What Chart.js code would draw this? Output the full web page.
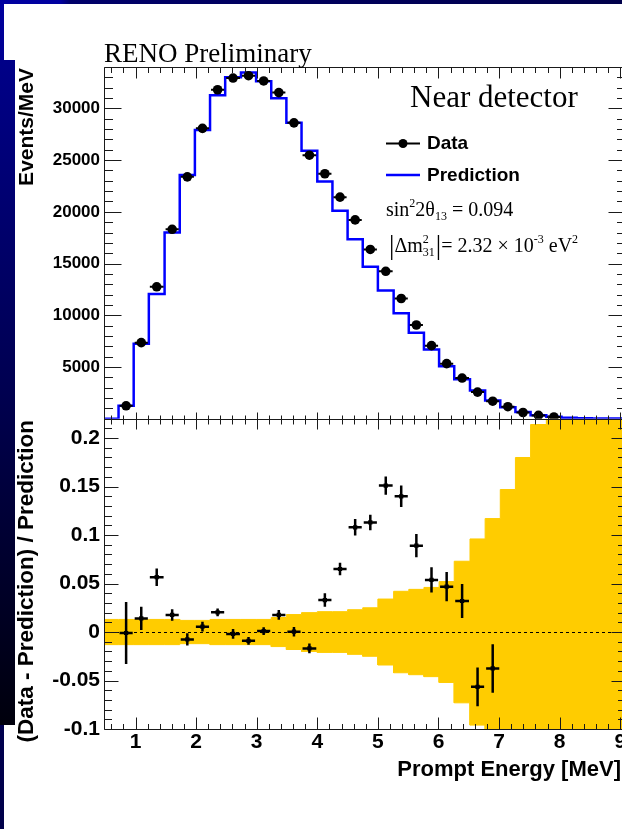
<!DOCTYPE html>
<html>
<head>
<meta charset="utf-8">
<title>RENO near detector prompt spectrum</title>
<script src="https://cdn.jsdelivr.net/npm/chart.js@4.4.0/dist/chart.umd.min.js"></script>
<style>
  html, body { margin: 0; padding: 0; background: #fff; overflow: hidden; }
  body { width: 622px; height: 829px; position: relative; }
  #frameTop { position: absolute; left: 0; top: 0; width: 622px; height: 4px; background: linear-gradient(to right, #0000a0 0, #0000a0 60px, #00006a 70px, #00004a); z-index: 2; }
  #frameLeft { position: absolute; left: 0; top: 0; width: 4px; height: 829px; background: linear-gradient(to bottom, #0000a0, #000060 30%, #00004a); z-index: 2; }
  #frameSide { position: absolute; left: 0; top: 60px; width: 15px; height: 665px; background: linear-gradient(to bottom, #000088, #000050 50%, #00000c); z-index: 2; }
  canvas { position: absolute; left: 0; top: 0; }
</style>
</head>
<body>
<div id="frameTop"></div>
<div id="frameLeft"></div>
<div id="frameSide"></div>
<canvas id="spectrum" width="640" height="829"></canvas>
<canvas id="ratio" width="640" height="829"></canvas>
<script>
// energy binning (MeV)
const binEdges = [0.72, 0.97, 1.22, 1.48, 1.73, 1.98, 2.23, 2.48, 2.74, 2.99, 3.24, 3.49, 3.74, 4.00,
  4.25, 4.50, 4.75, 5.00, 5.26, 5.51, 5.76, 6.01, 6.26, 6.52, 6.77, 7.02, 7.27, 7.52, 7.78, 8.03,
  8.28, 8.53, 8.78, 9.04, 9.29];

// events / MeV
const prediction = [1250, 7250, 12060, 17990, 23570, 27920, 31270, 33010, 33460, 32620, 30980, 28620,
  25915, 22920, 20110, 17350, 14700, 12400, 10190, 8320, 6700, 5080, 3810, 2720, 1760, 1100, 640,
  330, 180, 90, 50, 30, 20, 10];
const dataEvents = [1250, 7350, 12750, 18310, 23380, 28070, 31800, 32930, 33160, 32650, 31525, 28600,
  25475, 23680, 21420, 19220, 16360, 14250, 11620, 9060, 7060, 5320, 3930, 2570, 1690, 1160, 600,
  320, 170];

// (data - prediction) / prediction
const ratio = [-0.001, 0.014, 0.0565, 0.0176, -0.0076, 0.0055, 0.0203, -0.002, -0.009, 0.001, 0.0176,
  0.0003, -0.0169, 0.033, 0.065, 0.108, 0.113, 0.151, 0.140, 0.089, 0.0537, 0.0468, 0.032, -0.0565, -0.0375];
const ratioErr = [0.032, 0.012, 0.009, 0.006, 0.0064, 0.005, 0.004, 0.005, 0.004, 0.004, 0.005, 0.005,
  0.005, 0.007, 0.0065, 0.0085, 0.008, 0.0095, 0.011, 0.012, 0.013, 0.015, 0.0175, 0.020, 0.025];

// systematic uncertainty band (half width)
const bandHalfWidth = [0.013, 0.013, 0.013, 0.013, 0.012, 0.012, 0.013, 0.013, 0.013, 0.013, 0.015,
  0.018, 0.020, 0.021, 0.021, 0.023, 0.025, 0.034, 0.042, 0.044, 0.046, 0.052, 0.073, 0.096, 0.117,
  0.147, 0.180, 0.214, 0.3, 0.3, 0.3, 0.3, 0.3, 0.3];

const energyTicks = [1, 2, 3, 4, 5, 6, 7, 8, 9];
const spectrumTicks = [5000, 10000, 15000, 20000, 25000, 30000];
const ratioTicks = [-0.1, -0.05, 0, 0.05, 0.1, 0.15, 0.2];

const xMin = 0.48, xMax = 9.07;
const sans = 'Liberation Sans';
const serif = 'Liberation Serif';
const gold = '#ffcc00';

Chart.defaults.font.family = sans;
Chart.defaults.color = '#000';

const centers = dataEvents.map((_, i) => (binEdges[i] + binEdges[i + 1]) / 2);

// step outline of the prediction histogram
const predSteps = [{ x: xMin, y: 0 }, { x: binEdges[0], y: 0 }];
prediction.forEach((v, i) => {
  predSteps.push({ x: binEdges[i], y: v }, { x: binEdges[i + 1], y: v });
});

const bandUpper = [{ x: xMin, y: bandHalfWidth[0] }];
const bandLower = [{ x: xMin, y: -bandHalfWidth[0] }];
bandHalfWidth.forEach((h, i) => {
  bandUpper.push({ x: binEdges[i], y: h }, { x: binEdges[i + 1], y: h });
  bandLower.push({ x: binEdges[i], y: -h }, { x: binEdges[i + 1], y: -h });
});

function line(ctx, x1, y1, x2, y2) {
  ctx.moveTo(x1, y1);
  ctx.lineTo(x2, y2);
}

// ROOT-like frame with inward ticks on all four sides
const rootFrame = {
  id: 'rootFrame',
  afterDraw(chart, args, o) {
    const { ctx, chartArea: a, scales } = chart;
    const xs = scales.x, ys = scales.y;
    const L = Math.round(a.left) + 0.5, R = Math.round(a.right) + 0.5;
    const T = Math.round(a.top) + 0.5, B = Math.round(a.bottom) + 0.5;
    ctx.save();
    ctx.strokeStyle = '#1a1a1a';
    ctx.lineWidth = 1;
    ctx.beginPath();
    ctx.rect(L, T, R - L, B - T);
    for (let k = Math.ceil(xs.min * 5); k <= Math.floor(xs.max * 5); k++) {
      const px = Math.round(xs.getPixelForValue(k / 5)) + 0.5;
      const major = k % 5 === 0;
      line(ctx, px, B, px, B - (major ? o.xBotMajor : o.xBotMinor));
      line(ctx, px, T, px, T + (major ? o.xTopMajor : o.xTopMinor));
    }
    for (let k = Math.ceil(ys.min / o.yStep - 1e-6); k <= Math.floor(ys.max / o.yStep + 1e-6); k++) {
      const py = Math.round(ys.getPixelForValue(k * o.yStep)) + 0.5;
      const len = k % 5 === 0 ? o.yMajor : o.yMinor;
      line(ctx, L, py, L + len, py);
      line(ctx, R, py, R - len, py);
    }
    ctx.stroke();
    ctx.restore();
    if (o.extra) o.extra(chart);
  }
};

function drawRuns(ctx, x, base, parts) {
  parts.forEach(p => {
    ctx.font = `${p.size}px ${serif}`;
    if (p.stack) {
      const w1 = ctx.measureText(p.stack[0]).width;
      const w2 = ctx.measureText(p.stack[1]).width;
      ctx.fillText(p.stack[0], x, base - 9);
      ctx.fillText(p.stack[1], x, base + 4);
      x += Math.max(w1, w2) + 1;
    } else {
      ctx.fillText(p.text, x, base + (p.dy || 0));
      x += ctx.measureText(p.text).width;
    }
  });
}

function drawSpectrumText(chart) {
  const ctx = chart.ctx;
  ctx.save();
  ctx.fillStyle = '#000';
  ctx.textBaseline = 'alphabetic';
  ctx.font = `27px ${serif}`;
  ctx.fillText('RENO Preliminary', 104, 62);
  ctx.font = `31px ${serif}`;
  ctx.fillText('Near detector', 410, 107);

  // legend
  ctx.strokeStyle = '#000';
  ctx.lineWidth = 2;
  ctx.beginPath();
  line(ctx, 386, 143.5, 420, 143.5);
  ctx.stroke();
  ctx.beginPath();
  ctx.arc(403, 143.5, 4.5, 0, Math.PI * 2);
  ctx.fill();
  ctx.strokeStyle = '#0000ff';
  ctx.lineWidth = 2.5;
  ctx.beginPath();
  line(ctx, 386, 175, 420, 175);
  ctx.stroke();
  ctx.font = `bold 19px ${sans}`;
  ctx.textBaseline = 'middle';
  ctx.fillText('Data', 427, 144);
  ctx.fillText('Prediction', 427, 176);

  ctx.textBaseline = 'alphabetic';
  drawRuns(ctx, 386, 216, [
    { text: 'sin', size: 20 }, { text: '2', size: 12, dy: -9 }, { text: '2θ', size: 20 },
    { text: '13', size: 12, dy: 4 }, { text: ' = 0.094', size: 20 }
  ]);
  drawRuns(ctx, 389, 252, [
    { text: '|', size: 27, dy: 2 }, { text: 'Δm', size: 20 }, { stack: ['2', '31'], size: 12 },
    { text: '|', size: 27, dy: 2 }, { text: '= 2.32 × 10', size: 20 }, { text: '-3', size: 12, dy: -9 },
    { text: ' eV', size: 20 }, { text: '2', size: 12, dy: -9 }
  ]);

  ctx.save();
  ctx.translate(27, 68);
  ctx.rotate(-Math.PI / 2);
  ctx.font = `bold 21px ${sans}`;
  ctx.textAlign = 'right';
  ctx.textBaseline = 'middle';
  ctx.fillText('Events/MeV', 0, 0);
  ctx.restore();
  ctx.restore();
}

function drawRatioText(chart) {
  const ctx = chart.ctx;
  ctx.save();
  ctx.fillStyle = '#000';
  ctx.font = `bold 22px ${sans}`;
  ctx.textAlign = 'right';
  ctx.textBaseline = 'alphabetic';
  ctx.fillText('Prompt Energy [MeV]', 621, 776);
  ctx.translate(27, 420);
  ctx.rotate(-Math.PI / 2);
  ctx.font = `bold 22.5px ${sans}`;
  ctx.textBaseline = 'middle';
  ctx.fillText('(Data - Prediction) / Prediction', 0, 0);
  ctx.restore();
}

// horizontal bin-width bars on the spectrum points
const spectrumBars = {
  id: 'spectrumBars',
  afterDatasetsDraw(chart) {
    const { ctx, scales: { x, y } } = chart;
    ctx.save();
    ctx.strokeStyle = '#000';
    ctx.lineWidth = 2;
    ctx.beginPath();
    dataEvents.forEach((v, i) => {
      const py = y.getPixelForValue(v);
      line(ctx, x.getPixelForValue(binEdges[i]) + 1, py, x.getPixelForValue(binEdges[i + 1]) - 1, py);
    });
    ctx.stroke();
    ctx.restore();
  }
};

// zero line and error crosses underneath the ratio markers
const ratioBars = {
  id: 'ratioBars',
  beforeDatasetDraw(chart, args) {
    if (args.index !== 0) return;
    const { ctx, chartArea: a, scales: { x, y } } = chart;
    ctx.save();
    ctx.strokeStyle = '#000';
    ctx.lineWidth = 1;
    ctx.setLineDash([3, 3]);
    const y0 = Math.round(y.getPixelForValue(0)) + 0.5;
    ctx.beginPath();
    line(ctx, a.left, y0, a.right, y0);
    ctx.stroke();
    ctx.setLineDash([]);
    ctx.lineWidth = 2.5;
    ctx.beginPath();
    ratio.forEach((r, i) => {
      const py = y.getPixelForValue(r);
      const px = x.getPixelForValue(centers[i]);
      line(ctx, x.getPixelForValue(binEdges[i]) + 1, py, x.getPixelForValue(binEdges[i + 1]) - 1, py);
      line(ctx, px, y.getPixelForValue(r + ratioErr[i]), px, y.getPixelForValue(r - ratioErr[i]));
    });
    ctx.stroke();
    ctx.restore();
  }
};

const topTickFont = { family: sans, weight: 'bold', size: 17 };
const bottomTickFont = { family: sans, weight: 'bold', size: 21 };

new Chart(document.getElementById('spectrum'), {
  type: 'line',
  data: {
    datasets: [
      {
        data: dataEvents.map((v, i) => ({ x: centers[i], y: v })),
        showLine: false,
        pointRadius: 4.8,
        pointBackgroundColor: '#000',
        pointBorderWidth: 0
      },
      {
        data: predSteps,
        borderColor: '#0000ff',
        borderWidth: 2.5,
        pointRadius: 0,
        fill: false,
        tension: 0
      }
    ]
  },
  options: {
    responsive: false,
    animation: false,
    layout: { padding: { left: 0, top: 67, right: 15.5, bottom: 410.3 } },
    plugins: {
      legend: { display: false },
      tooltip: { enabled: false },
      rootFrame: { xTopMajor: 11, xTopMinor: 5.5, xBotMajor: 7, xBotMinor: 4, yStep: 1000, yMajor: 17, yMinor: 8.5, extra: drawSpectrumText }
    },
    scales: {
      x: { type: 'linear', min: xMin, max: xMax, display: false },
      y: {
        type: 'linear', min: 0, max: 34000,
        grid: { display: false, drawTicks: false },
        border: { display: false },
        afterFit: s => { s.width = 104; },
        afterBuildTicks: s => { s.ticks = spectrumTicks.map(v => ({ value: v })); },
        ticks: { font: topTickFont, padding: 4, color: '#000', callback: v => String(v) }
      }
    }
  },
  plugins: [spectrumBars, rootFrame]
});

new Chart(document.getElementById('ratio'), {
  type: 'line',
  data: {
    datasets: [
      {
        data: ratio.map((r, i) => ({ x: centers[i], y: r })),
        showLine: false,
        pointStyle: 'rect',
        pointRadius: 3,
        pointBackgroundColor: '#000',
        pointBorderWidth: 0
      },
      {
        data: bandUpper,
        borderColor: gold,
        borderWidth: 1,
        backgroundColor: gold,
        pointRadius: 0,
        fill: 'origin',
        tension: 0
      },
      {
        data: bandLower,
        borderColor: gold,
        borderWidth: 1,
        backgroundColor: gold,
        pointRadius: 0,
        fill: 'origin',
        tension: 0
      }
    ]
  },
  options: {
    responsive: false,
    animation: false,
    layout: { padding: { left: 0, top: 418.7, right: 15.5, bottom: 0 } },
    plugins: {
      legend: { display: false },
      tooltip: { enabled: false },
      rootFrame: { xTopMajor: 10, xTopMinor: 5, xBotMajor: 12, xBotMinor: 5.5, yStep: 0.01, yMajor: 14, yMinor: 7.5, extra: drawRatioText }
    },
    scales: {
      x: {
        type: 'linear', min: xMin, max: xMax,
        grid: { display: false, drawTicks: false },
        border: { display: false },
        afterFit: s => { s.height = 100; },
        afterBuildTicks: s => { s.ticks = energyTicks.map(v => ({ value: v })); },
        ticks: { font: bottomTickFont, padding: 1, color: '#000', maxRotation: 0, autoSkip: false, callback: v => String(v) }
      },
      y: {
        type: 'linear', min: -0.1, max: 0.22,
        grid: { display: false, drawTicks: false },
        border: { display: false },
        afterFit: s => { s.width = 104; },
        afterBuildTicks: s => { s.ticks = ratioTicks.map(v => ({ value: v })); },
        ticks: { font: bottomTickFont, padding: 4, color: '#000', callback: v => String(v) }
      }
    }
  },
  plugins: [ratioBars, rootFrame]
});
</script>
</body>
</html>
